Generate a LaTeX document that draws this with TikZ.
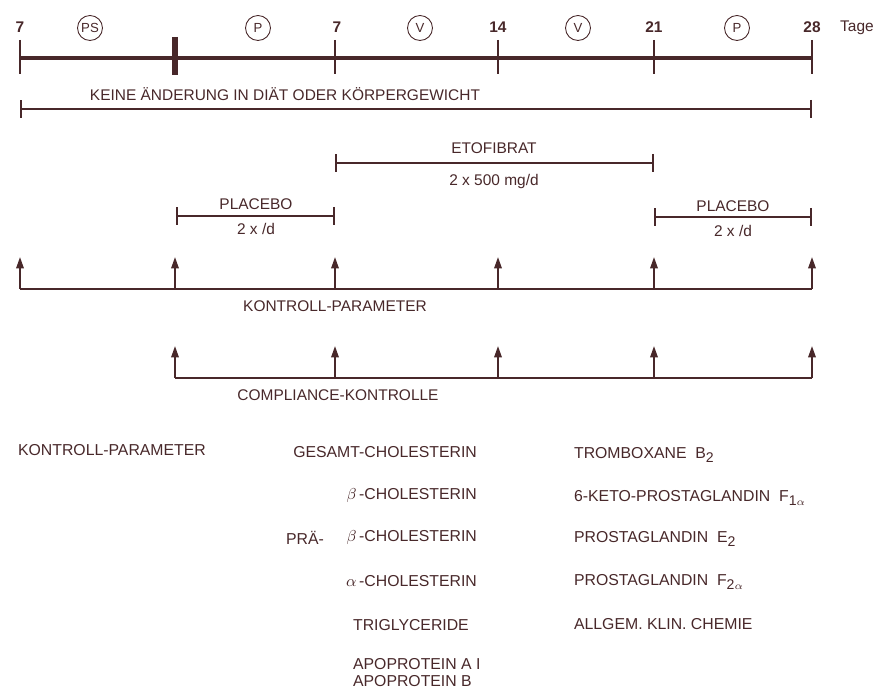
\documentclass[tikz,border=0pt]{standalone}
\usepackage{fontspec}
\setmainfont{Liberation Sans}
\usetikzlibrary{arrows.meta}
\definecolor{ink}{RGB}{72,40,42}
\newcommand{\lowidx}[1]{\raisebox{-0.5ex}{\fontsize{8}{9}\selectfont #1}}

\begin{document}
\begin{tikzpicture}[x=0.02cm,y=-0.02cm,
		every node/.style={text=ink,inner sep=1pt,font=\fontsize{8.8}{10}\selectfont},
		day/.style={font=\fontsize{8.8}{10}\selectfont\bfseries},
		phase/.style={draw=ink,circle,line width=0.5pt,minimum size=0.5cm,inner sep=0pt,font=\fontsize{7.5}{8}\selectfont},
		span/.style={draw=ink,line width=1pt,{Bar[width=0.36cm]}-{Bar[width=0.36cm]}},
		upar/.style={draw=ink,line width=1.1pt,-{Triangle[length=0.23cm,width=0.15cm]}},
		par/.style={font=\fontsize{9}{10}\selectfont}]
	\useasboundingbox (0,0) rectangle (877,695);
	% time axis
	\foreach \n/\x in {a/20,b/175,c/335,d/498,e/654,f/812} {
		\coordinate (t\n) at (\x,58);
		\coordinate (r\n) at (\x,289);
		\coordinate (c\n) at (\x,378);
	}
	\draw[ink,line width=2.8pt] (ta) -- (tf);
	\foreach \n in {a,c,d,e,f}
		\draw[ink,line width=0.9pt] ([yshift=0.36cm]t\n) -- ([yshift=-0.32cm]t\n);
	\draw[ink,line width=3.2pt] ([yshift=0.42cm]tb) -- ([yshift=-0.34cm]tb);
	\node[day] (d0) at (20,27) {7};
	\node[day] (d7) at (337,27) {7};
	\node[day] (d14) at (498,27) {14};
	\node[day] (d21) at (654,27) {21};
	\node[day] (d28) at (812,27) {28};
	\node (tage) at (857,28) {Tage};
	\node[phase] (ps) at (90,28) {PS};
	\node[phase] (p1) at (258,28) {P};
	\node[phase] (v1) at (420,28) {V};
	\node[phase] (v2) at (578,28) {V};
	\node[phase] (p2) at (737,28) {P};
	% periods
	\node (keine) at (285,94) {KEINE ÄNDERUNG IN DIÄT ODER KÖRPERGEWICHT};
	\coordinate (wa) at (20,109);
	\coordinate (wz) at (812,109);
	\draw[span] (wa) -- (wz);
	\node (eto) at (494,148) {ETOFIBRAT};
	\node (etodose) at (494,182) {2 x 500 mg/d};
	\draw[span] (335,163) coordinate (ea) -- (654,163) coordinate (ez);
	\node (pla1) at (256,204) {PLACEBO};
	\node (pladose1) at (256,229) {2 x /d};
	\draw[span] (176,216) coordinate (pa) -- (335,216) coordinate (pz);
	\node (pla2) at (733,206) {PLACEBO};
	\node (pladose2) at (733,231) {2 x /d};
	\draw[span] (654,217) coordinate (qa) -- (812,217) coordinate (qz);
	% control points
	\draw[ink,line width=1.1pt] (ra) -- (rf);
	\foreach \n in {a,b,c,d,e,f}
		\draw[upar] (r\n) -- ++(0,-32);
	\node (kontr) at (335,306) {KONTROLL-PARAMETER};
	\draw[ink,line width=1.1pt] (cb) -- (cf);
	\foreach \n in {b,c,d,e,f}
		\draw[upar] (c\n) -- ++(0,-32);
	\node (compl) at (338,395) {COMPLIANCE-KONTROLLE};
	% parameter list
	\node[par,anchor=west] (kp) at (16,450) {KONTROLL-PARAMETER};
	\node[par,anchor=east] (gc) at (479,452) {GESAMT-CHOLESTERIN};
	\node[par,anchor=east] (bc) at (479,496) {$\beta$\,-CHOLESTERIN};
	\node[par,anchor=east] (pbc) at (479,538) {$\beta$\,-CHOLESTERIN};
	\node[par,anchor=west] (pra) at (284,538) {PRÄ-};
	\node[par,anchor=east] (ac) at (479,581) {$\alpha$\,-CHOLESTERIN};
	\node[par,anchor=west] (tg) at (351,625) {TRIGLYCERIDE};
	\node[par,anchor=west] (apa) at (351,664) {APOPROTEIN A I};
	\node[par,anchor=west] (apb) at (351,681) {APOPROTEIN B};
	\node[par,anchor=west] (txb) at (572,455) {TROMBOXANE\ \ B\lowidx{2}};
	\node[par,anchor=west] (kpg) at (572,498) {6-KETO-PROSTAGLANDIN\ \ F\lowidx{1$\scriptstyle\alpha$}};
	\node[par,anchor=west] (pge) at (572,539) {PROSTAGLANDIN\ \ E\lowidx{2}};
	\node[par,anchor=west] (pgf) at (572,582) {PROSTAGLANDIN\ \ F\lowidx{2$\scriptstyle\alpha$}};
	\node[par,anchor=west] (akc) at (572,624) {ALLGEM. KLIN. CHEMIE};
\end{tikzpicture}
\end{document}
